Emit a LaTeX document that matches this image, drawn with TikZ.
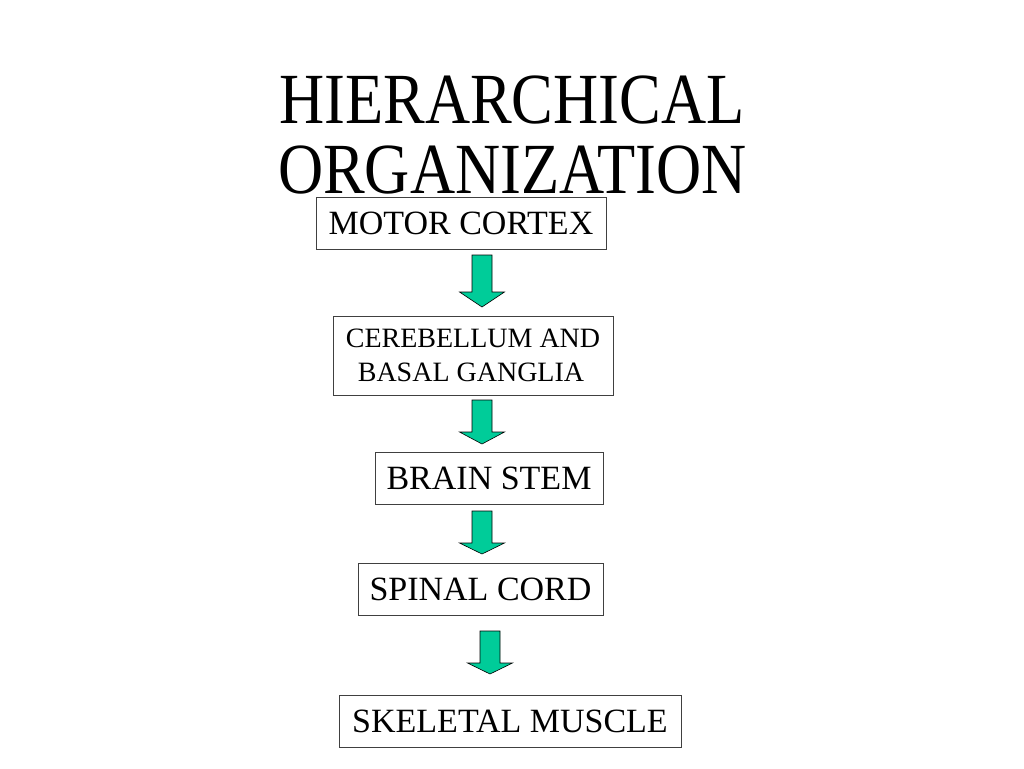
\documentclass[tikz,border=0pt]{standalone}
\usepackage{fontspec}
\setmainfont{Liberation Serif}
\definecolor{arrowgreen}{RGB}{0,204,153}
\tikzstyle{level}=[draw=black!75,line width=0.8pt,inner sep=0pt,minimum height=52pt]
\tikzstyle{downarrow}=[draw=black,line width=0.6pt,fill=arrowgreen]
\tikzstyle{heading}=[anchor=base,font=\fontsize{72}{72}\selectfont]
\tikzstyle{every node}=[font=\fontsize{34}{36}\selectfont]

\begin{document}
\begin{tikzpicture}[x=1pt,y=-1pt]
  \useasboundingbox (0,0) rectangle (1024,768);
  \node[heading] (title1) at (512,123) {\scalebox{0.868}[1]{HIERARCHICAL}};
  \node[heading] (title2) at (512.5,193) {\scalebox{0.868}[1]{ORGANIZATION}};
  \node[level,minimum width=290pt] (cortex) at (461,223) {MOTOR CORTEX};
  \node[level,minimum width=280pt,minimum height=79pt,align=left,
    font=\fontsize{28}{34}\selectfont] (cereb) at (473,355.5)
    {CEREBELLUM AND\hspace{8pt}\\\hspace{12pt}BASAL GANGLIA};
  \node[level,minimum width=228pt] (stem) at (489,478) {BRAIN STEM};
  \node[level,minimum width=245pt] (cord) at (480.5,589) {SPINAL CORD};
  \node[level,minimum width=342pt] (muscle) at (510,721) {SKELETAL MUSCLE};
  \foreach \cx/\ya/\yb/\yc in {482/255/292/307,482/400/432/444,482/511/543/554,490/631/663/674}
    \draw[downarrow] (\cx-10,\ya) -- (\cx+10,\ya) -- (\cx+10,\yb) -- (\cx+22.5,\yb)
      -- (\cx,\yc) -- (\cx-22.5,\yb) -- (\cx-10,\yb) -- cycle;
\end{tikzpicture}
\end{document}
